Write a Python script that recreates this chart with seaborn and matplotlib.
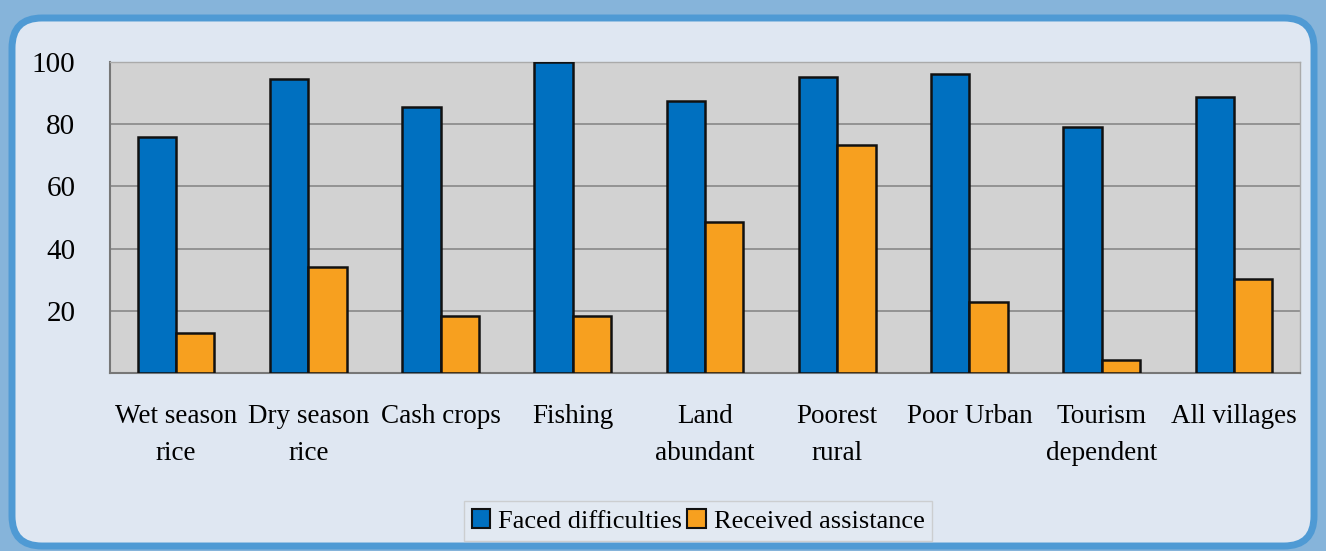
import matplotlib
matplotlib.use("Agg")
import matplotlib.pyplot as plt
from matplotlib.patches import FancyBboxPatch, Rectangle
import seaborn as sns
import pandas as pd

categories = ["Wet season\nrice", "Dry season\nrice", "Cash crops", "Fishing",
              "Land\nabundant", "Poorest\nrural", "Poor Urban", "Tourism\ndependent",
              "All villages"]
faced = [76, 94.5, 85.5, 100, 87.5, 95.2, 96, 79, 88.7]
received = [13, 34, 18.3, 18.3, 48.5, 73.3, 22.8, 4.2, 30.2]
series = ["Faced difficulties", "Received assistance"]
yticks = [20, 40, 60, 80, 100]

df = pd.DataFrame({
    "category": categories * 2,
    "value": faced + received,
    "series": [series[0]] * len(categories) + [series[1]] * len(categories),
})

sns.set_theme(style="white")
plt.rcParams["font.family"] = ["Liberation Serif", "DejaVu Serif"]
plt.rcParams["text.color"] = "black"
plt.rcParams["xtick.color"] = "black"
plt.rcParams["ytick.color"] = "black"

fig = plt.figure(figsize=(13.26, 5.51), dpi=100)
fig.patch.set_facecolor("#86b4da")

bg = fig.add_axes([0, 0, 1, 1], zorder=-1)
bg.set_xlim(0, 1326)
bg.set_ylim(551, 0)
bg.axis("off")
bg.add_patch(FancyBboxPatch((12, 18), 1302, 528,
                            boxstyle="round,pad=0,rounding_size=30",
                            facecolor="#dfe7f2", edgecolor="#4f9ad4", linewidth=5))

ax = fig.add_axes([110 / 1326, 1 - 373 / 551, 1190 / 1326, 311 / 551])
ax.set_facecolor("#d2d2d2")
sns.barplot(data=df, x="category", y="value", hue="series",
            palette=["#0070c0", "#f7a01f"], width=0.58, ax=ax,
            edgecolor="#111111", linewidth=1.8, saturation=1, zorder=3)
ax.set_ylim(0, 100)
ax.set_yticks(yticks)
ax.set_yticklabels([str(t) for t in yticks], fontsize=21)
ax.yaxis.grid(True, color="#888888", linewidth=1.2, zorder=0)
ax.set_axisbelow(True)
ax.set_xlabel("")
ax.set_ylabel("")
ax.tick_params(axis="x", labelsize=19.5, pad=22, length=0)
ax.tick_params(axis="y", pad=25, length=0)
for lbl in ax.get_xticklabels():
    lbl.set_linespacing(1.65)
for s in ["left", "bottom"]:
    ax.spines[s].set_color("#777777")
    ax.spines[s].set_linewidth(1.5)
for s in ["top", "right"]:
    ax.spines[s].set_color("#aaaaaa")
    ax.spines[s].set_linewidth(1.0)

ax.legend_.remove()
handles = [Rectangle((0, 0), 1, 1, facecolor=c, edgecolor="#111111", linewidth=1.5)
           for c in ["#0070c0", "#f7a01f"]]
fig.legend(handles, series, loc="center", bbox_to_anchor=(698 / 1326, 1 - 521 / 551),
           ncol=2, fontsize=19, frameon=True, fancybox=False, edgecolor="#c8c8c8",
           facecolor="#e4eaf2", handlelength=0.7, handleheight=0.7, handletextpad=0.3,
           columnspacing=0.2, borderpad=0.3)

fig.savefig("out.png", dpi=100, facecolor=fig.get_facecolor())
